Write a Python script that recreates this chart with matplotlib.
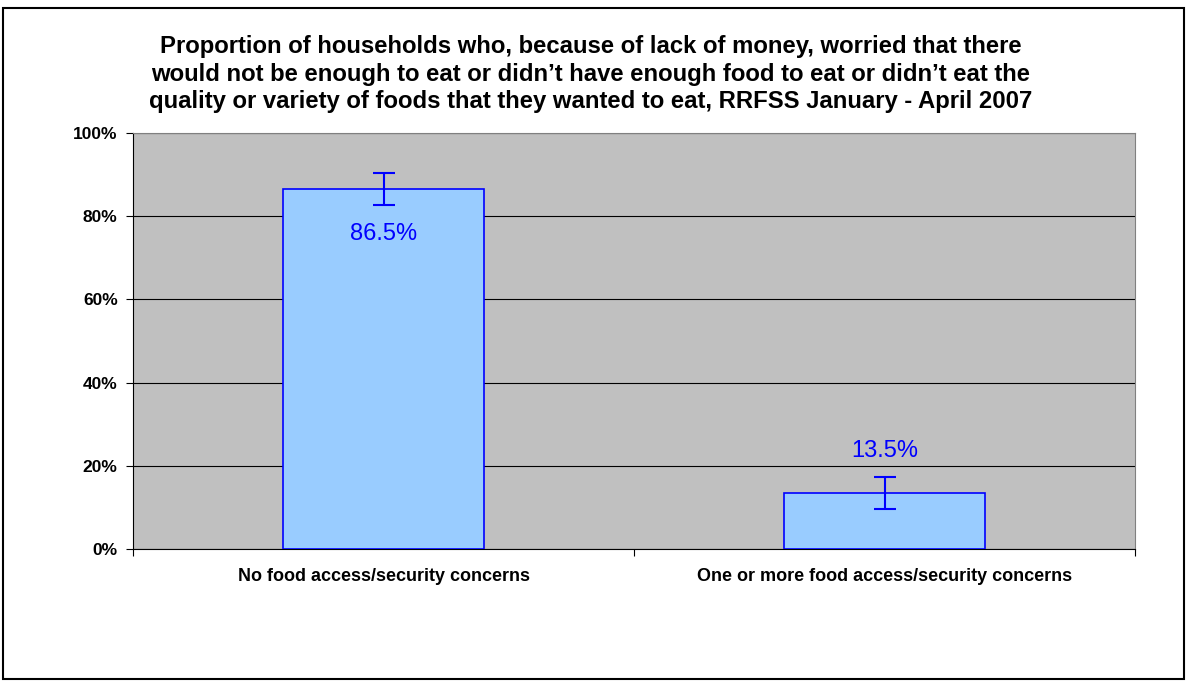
import matplotlib
matplotlib.use("Agg")
import matplotlib.pyplot as plt
from matplotlib.patches import Rectangle

categories = ["No food access/security concerns", "One or more food access/security concerns"]
values = [86.5, 13.5]
errors = [3.8, 3.8]
labels = ["86.5%", "13.5%"]
yticks = [0, 20, 40, 60, 80, 100]
title = ("Proportion of households who, because of lack of money, worried that there\n"
         "would not be enough to eat or didn\u2019t have enough food to eat or didn\u2019t eat the\n"
         "quality or variety of foods that they wanted to eat, RRFSS January - April 2007")

plt.rcParams['font.family'] = ['Liberation Sans', 'DejaVu Sans']

fig = plt.figure(figsize=(11.87, 6.81), dpi=100)
fig.patches.append(Rectangle((3/1187, 2/681), 1181/1187, 671/681, transform=fig.transFigure,
                             fill=False, edgecolor='black', linewidth=1.5))
ax = fig.add_axes([133/1187, 1 - 549/681, (1135-133)/1187, (549-133)/681])
ax.set_facecolor('#C0C0C0')
x = [0.5, 1.5]
ax.bar(x, values, width=0.4, color='#99CCFF', edgecolor='#0000FF', linewidth=1.2, zorder=3)
ax.errorbar(x, values, yerr=errors, fmt='none', ecolor='#0000FF', elinewidth=1.5,
            capsize=8, capthick=1.5, zorder=4)
ax.text(x[0], values[0] - 10.8, labels[0], ha='center', va='center', color='#0000FF', fontsize=17, zorder=5)
ax.text(x[1], values[1] + 10.0, labels[1], ha='center', va='center', color='#0000FF', fontsize=17, zorder=5)
ax.set_xlim(0, 2)
ax.set_ylim(0, 100)
ax.set_yticks(yticks)
ax.set_yticklabels([f"{t}%" for t in yticks], fontsize=12.5, fontweight='bold')
ax.yaxis.grid(True, color='black', linewidth=0.8, zorder=0)
ax.set_axisbelow(True)
ax.set_xticks([0, 1, 2])
ax.set_xticklabels([])
ax.set_xticks(x, minor=True)
ax.set_xticklabels(categories, minor=True, fontsize=13, fontweight='bold')
ax.tick_params(axis='x', which='minor', length=0, pad=14)
ax.tick_params(axis='x', which='major', length=5, direction='out')
ax.tick_params(axis='y', length=5, direction='out', pad=6)
for s in ['top', 'right']:
    ax.spines[s].set_color('#808080')
    ax.spines[s].set_linewidth(0.8)
ax.spines['left'].set_color('black')
ax.spines['bottom'].set_color('black')
fig.text(591/1187, 1 - 74/681, title, ha='center', va='center', fontsize=17.2, fontweight='bold',
         linespacing=1.27)
fig.savefig("out.png", dpi=100)
